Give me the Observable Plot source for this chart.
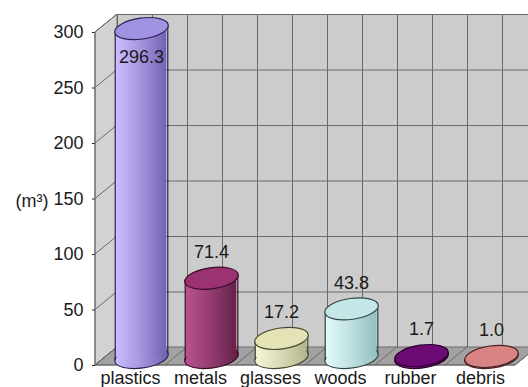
<!DOCTYPE html>
<html><head><meta charset="utf-8">
<script src="https://cdn.jsdelivr.net/npm/d3@7"></script>
<script src="https://cdn.jsdelivr.net/npm/@observablehq/plot@0.6"></script>
<style>
html,body{margin:0;padding:0;background:#fff;}
</style>
</head><body>
<div id="chart"></div>
<script>
// ---- data ----
const categories = ["plastics", "metals", "glasses", "woods", "rubber", "debris"];
const volumes = [296.3, 71.4, 17.2, 43.8, 1.7, 1.0];
const valueLabels = ["296.3", "71.4", "17.2", "43.8", "1.7", "1.0"];
const yTicks = [0, 50, 100, 150, 200, 250, 300];
const unitLabel = "(m³)";

// ---- colours ----
const lightColors = ["#cbbdff", "#b8528f", "#f7f7d8", "#e4fafa", "#8c1c92", "#f2a4a4"];
const darkColors  = ["#7462b2", "#66204a", "#b4b48c", "#92c0c0", "#48004e", "#b45c5c"];
const topColors   = ["#a192e2", "#9b3373", "#e3e3b6", "#c6e7e7", "#6b0b73", "#d98484"];
const edgeColors  = ["#2c2252", "#380a26", "#48482e", "#2e4648", "#28002c", "#482020"];

// ---- layout ----
const W = 528, H = 387;
const mL = 95, mR = 13, mT = 32, mB = 22;
const BW = (W - mL - mR) / categories.length;
const DX = 22, DY = -18;          // depth of the 3-D box
const CX = DX / 2, CY = -8;        // cylinder axis at mid depth
const RA = 27, RB = 10.5, TILT = -8 * Math.PI / 180;
const t0 = Math.atan2(-RB * Math.sin(TILT), RA * Math.cos(TILT));
const tanX = RA * Math.cos(t0) * Math.cos(TILT) - RB * Math.sin(t0) * Math.sin(TILT);
const tanY = RA * Math.cos(t0) * Math.sin(TILT) + RB * Math.sin(t0) * Math.cos(TILT);
const bodyInset = BW / 2 - (tanX - 1.5);
const gridColor = "#6a6a6a";

const data = categories.map((c, i) => ({
  category: c, volume: volumes[i], label: valueLabels[i],
  bodyFill: `url(#body${i})`, topFill: topColors[i], edgeStroke: edgeColors[i]
}));

const ellipseSymbol = {
  draw(ctx) {
    const k = 0.5522847498, a = RA, b = RB;
    const c = Math.cos(TILT), s = Math.sin(TILT);
    const P = (u, v) => [u * c - v * s, u * s + v * c];
    const seg = [
      [[a, k * b], [k * a, b], [0, b]],
      [[-k * a, b], [-a, k * b], [-a, 0]],
      [[-a, -k * b], [-k * a, -b], [0, -b]],
      [[k * a, -b], [a, -k * b], [a, 0]]
    ];
    const st = P(a, 0);
    ctx.moveTo(st[0], st[1]);
    for (const [p1, p2, p3] of seg) {
      const q1 = P(...p1), q2 = P(...p2), q3 = P(...p3);
      ctx.bezierCurveTo(q1[0], q1[1], q2[0], q2[1], q3[0], q3[1]);
    }
    ctx.closePath();
  }
};

function gradients() {
  const defs = d3.create("svg:defs");
  categories.forEach((c, i) => {
    const g = defs.append("linearGradient").attr("id", `body${i}`)
      .attr("x1", "0").attr("x2", "1").attr("y1", "0").attr("y2", "0");
    g.append("stop").attr("offset", "0").attr("stop-color", lightColors[i]);
    g.append("stop").attr("offset", "0.45").attr("stop-color", d3.interpolateRgb(lightColors[i], darkColors[i])(0.4));
    g.append("stop").attr("offset", "1").attr("stop-color", darkColors[i]);
  });
  return defs.node();
}

function sideWallAndFloor(index, scales, values, dim) {
  const g = d3.create("svg:g");
  const x0 = dim.marginLeft, x1 = dim.width - dim.marginRight;
  const yb = scales.y(yTicks[0]), yt = scales.y(yTicks[yTicks.length - 1]);
  g.append("path")
    .attr("d", `M${x0},${yt}L${x0 + DX},${yt + DY}L${x0 + DX},${yb + DY}L${x0},${yb}Z`)
    .attr("fill", "#d2d2d2").attr("stroke", gridColor);
  for (const t of yTicks) {
    const y = scales.y(t);
    g.append("line").attr("x1", x0).attr("y1", y).attr("x2", x0 + DX).attr("y2", y + DY)
      .attr("stroke", gridColor);
  }
  g.append("path")
    .attr("d", `M${x0},${yb}L${x0 + DX},${yb + DY}L${x1 + DX},${yb + DY}L${x1},${yb}Z`)
    .attr("fill", "#a2a2a2").attr("stroke", gridColor);
  const n = categories.length;
  for (let i = 0; i <= n; i++) {
    const x = x0 + i * (x1 - x0) / n;
    g.append("line").attr("x1", x).attr("y1", yb).attr("x2", x + DX).attr("y2", yb + DY)
      .attr("stroke", gridColor);
  }
  g.append("line").attr("x1", x0).attr("y1", yt).attr("x2", x0).attr("y2", yb).attr("stroke", gridColor);
  g.append("line").attr("x1", x0).attr("y1", yb).attr("x2", x1).attr("y2", yb).attr("stroke", gridColor);
  return g.node();
}

const insideLimit = yTicks[yTicks.length - 1] * 0.9;

const chart = Plot.plot({
  width: W, height: H,
  marginLeft: mL, marginRight: mR, marginTop: mT, marginBottom: mB,
  style: {fontFamily: "'Liberation Sans', Arial, sans-serif", fontSize: "18px", color: "#1a1a1a", background: "#fff", overflow: "hidden"},
  x: {domain: categories, padding: 0, label: null, tickSize: 0, tickPadding: 6},
  y: {domain: [yTicks[0], yTicks[yTicks.length - 1]], ticks: yTicks, label: null, tickSize: 3, tickPadding: 9},
  color: {type: "identity"},
  marks: [
    gradients,
    Plot.frame({fill: "#cccccc", stroke: gridColor, dx: DX, dy: DY}),
    Plot.ruleY(yTicks, {dx: DX, dy: DY, stroke: gridColor}),
    Plot.ruleX(categories, {x: d => d, dx: DX - BW / 2, dy: DY, stroke: gridColor}),
    Plot.ruleX(categories, {x: d => d, dx: DX, dy: DY, stroke: gridColor}),
    sideWallAndFloor,
    // bottom ellipses
    Plot.dot(data, {x: "category", y: 0, symbol: ellipseSymbol, r: 10, fill: "bodyFill", stroke: "edgeStroke", strokeWidth: 1.2, dx: CX, dy: CY}),
    // cylinder bodies
    Plot.barY(data, {x: "category", y: "volume", fill: "bodyFill", insetLeft: bodyInset, insetRight: bodyInset, dx: CX, dy: CY}),
    // cylinder sides
    Plot.ruleX(data, {x: "category", y1: 0, y2: "volume", stroke: "edgeStroke", strokeWidth: 1.2, dx: CX - tanX + 0.5, dy: CY - tanY}),
    Plot.ruleX(data, {x: "category", y1: 0, y2: "volume", stroke: "edgeStroke", strokeWidth: 1.2, dx: CX + tanX - 0.5, dy: CY + tanY}),
    // top ellipses
    Plot.dot(data, {x: "category", y: "volume", symbol: ellipseSymbol, r: 10, fill: "topFill", stroke: "edgeStroke", strokeWidth: 1.2, dx: CX, dy: CY}),
    // value labels
    Plot.text(data, {filter: d => d.volume <= insideLimit, x: "category", y: "volume", text: "label", dx: CX, dy: CY - 26, fill: "#1a1a1a", fontSize: 18}),
    Plot.text(data, {filter: d => d.volume > insideLimit, x: "category", y: "volume", text: "label", dx: CX, dy: CY + 29, fill: "#1a1a1a", fontSize: 18}),
    // unit label
    Plot.text([unitLabel], {frameAnchor: "left", textAnchor: "start", dx: -80, dy: 2, fill: "#1a1a1a", fontSize: 18})
  ]
});
document.getElementById("chart").appendChild(chart);
</script>
</body></html>
